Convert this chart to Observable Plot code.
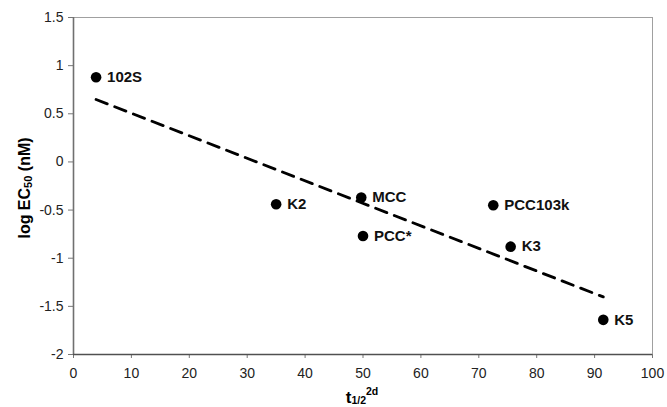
<!DOCTYPE html>
<html>
<head>
<meta charset="utf-8">
<script src="https://cdn.jsdelivr.net/npm/d3@7"></script>
<script src="https://cdn.jsdelivr.net/npm/@observablehq/plot@0.6"></script>
<style>
  html, body { margin: 0; padding: 0; background: #fff; }
  #chart { width: 667px; height: 407px; }
</style>
</head>
<body>
<div id="chart"></div>
<script>
// ---- data ----
const compounds = ["102S", "K2", "MCC", "PCC*", "PCC103k", "K3", "K5"];
const halfLife  = [3.9, 35.0, 49.7, 50.0, 72.5, 75.5, 91.5];   // t1/2 (2d)
const logEC50   = [0.88, -0.44, -0.37, -0.77, -0.45, -0.88, -1.64];
const xTicks = [0, 10, 20, 30, 40, 50, 60, 70, 80, 90, 100];
const yTicks = [-2, -1.5, -1, -0.5, 0, 0.5, 1, 1.5];

const data = compounds.map((name, i) => ({name, x: halfLife[i], y: logEC50[i]}));

const W = 667, H = 407;
const plot = Plot.plot({
  width: W,
  height: H,
  marginLeft: 73,
  marginRight: 15,
  marginTop: 17,
  marginBottom: 53,
  style: {fontFamily: "'Liberation Sans', Arial, sans-serif", fontSize: "14px", color: "#222", background: "#fff"},
  x: {domain: [0, 100], ticks: xTicks, tickFormat: d => String(d), label: null},
  y: {domain: [-2, 1.5], ticks: yTicks, tickFormat: d => String(d), label: null},
  marks: [
    Plot.frame({stroke: "#a0a0a0", strokeWidth: 1}),
    Plot.axisX({ticks: xTicks, tickFormat: d => String(d), tickSize: 4, tickPadding: 10, stroke: "#777", fill: "#222", label: null}),
    Plot.axisY({ticks: yTicks, tickFormat: d => String(d), tickSize: 5, tickPadding: 5, stroke: "#777", fill: "#222", label: null}),
    Plot.ruleX([0], {stroke: "#707070", strokeWidth: 1.6}),
    Plot.ruleY([-2], {stroke: "#505050", strokeWidth: 1.4}),
    Plot.linearRegressionY(data, {x: "x", y: "y", ci: 0, stroke: "black", strokeWidth: 2.8, strokeDasharray: "12,8"}),
    Plot.dot(data, {x: "x", y: "y", r: 5.3, fill: "black", stroke: "none"}),
    Plot.text(data, {x: "x", y: "y", text: "name", textAnchor: "start", dx: 11, fontWeight: "bold", fontSize: 15, fill: "#111"})
  ]
});
document.getElementById("chart").appendChild(plot);

const svg = d3.select(plot);
// y-axis title
const yt = svg.append("text")
  .attr("transform", "translate(24,188) rotate(-90)")
  .attr("text-anchor", "middle")
  .attr("dominant-baseline", "central")
  .attr("font-weight", "bold")
  .attr("font-size", 16)
  .attr("fill", "#000");
yt.append("tspan").text("log EC");
yt.append("tspan").attr("font-size", 11).attr("dy", 4).text("50");
yt.append("tspan").attr("dy", -4).text(" (nM)");

// x-axis title
const xt = svg.append("text")
  .attr("x", 362)
  .attr("y", 403)
  .attr("text-anchor", "middle")
  .attr("font-weight", "bold")
  .attr("font-size", 17)
  .attr("fill", "#000");
xt.append("tspan").text("t");
xt.append("tspan").attr("font-size", 10.5).attr("dy", 1).text("1/2");
xt.append("tspan").attr("font-size", 10.5).attr("dy", -9).text("2d");
</script>
</body>
</html>
